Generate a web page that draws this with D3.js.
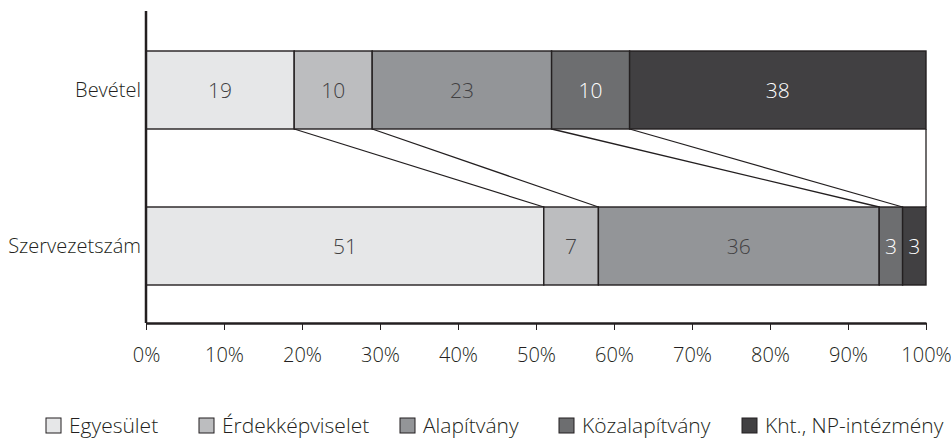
<!DOCTYPE html>
<html>
<head>
<meta charset="utf-8">
<script src="https://cdn.jsdelivr.net/npm/d3@7"></script>
<style>
  html, body { margin: 0; padding: 0; background: #fff; }
  svg text { font-family: "Open Sans", "Noto Sans", sans-serif; font-weight: 300; fill: #231f20; }
</style>
</head>
<body>
<svg id="chart" width="951" height="439"></svg>
<script>
// Rows of the 100% stacked bar
const categories = ["Bevétel", "Szervezetszám"];
// Segment names, in stacking order
const seriesNames = ["Egyesület", "Érdekképviselet", "Alapítvány", "Közalapítvány", "Kht., NP-intézmény"];
// Percent shares per row, same order as seriesNames
const bevetel = [19, 10, 23, 10, 38];
const szervezetszam = [51, 7, 36, 3, 3];
const tickValues = [0, 10, 20, 30, 40, 50, 60, 70, 80, 90, 100];
const fills = ["#e6e7e8", "#bcbdbf", "#939598", "#6d6e70", "#414042"];
const labelColors = ["#414042", "#414042", "#414042", "#ffffff", "#ffffff"];

const rows = [bevetel, szervezetszam];

const svg = d3.select("#chart");
const plot = { left: 146, right: 926, top: 11, axisY: 323 };

const x = d3.scaleLinear().domain([0, 100]).range([plot.left, plot.right]);
const y = d3.scaleBand().domain(categories).range([12, 324]).paddingInner(0.5).paddingOuter(0.25);

// cumulative segment boundaries per row
const stacks = rows.map(vals => {
  let acc = 0;
  return vals.map((v, i) => { const s = { i, x0: acc, x1: acc + v, v }; acc += v; return s; });
});

// Connector lines between matching boundaries of the two bars
const topRow = stacks[0], botRow = stacks[1];
const yTopBottom = y(categories[0]) + y.bandwidth();
const yBotTop = y(categories[1]);
const conn = svg.append("g");
topRow.forEach((s, i) => {
  conn.append("line")
    .attr("x1", x(s.x1)).attr("y1", yTopBottom)
    .attr("x2", x(botRow[i].x1)).attr("y2", yBotTop)
    .attr("stroke", "#231f20").attr("stroke-width", 1.3);
});

// Bars
const bars = svg.append("g");
stacks.forEach((row, r) => {
  const cat = categories[r];
  row.forEach(s => {
    bars.append("rect")
      .attr("x", x(s.x0)).attr("y", y(cat))
      .attr("width", x(s.x1) - x(s.x0)).attr("height", y.bandwidth())
      .attr("fill", fills[s.i]).attr("stroke", "#231f20").attr("stroke-width", 1.4);
    bars.append("text")
      .attr("x", (x(s.x0) + x(s.x1)) / 2).attr("y", y(cat) + y.bandwidth() / 2)
      .attr("text-anchor", "middle").attr("dy", "0.36em")
      .attr("font-size", 21)
      .style("fill", labelColors[s.i])
      .text(s.v);
  });
});

// Category labels
svg.append("g").selectAll("text").data(categories).join("text")
  .attr("x", plot.left - 5).attr("y", d => y(d) + y.bandwidth() / 2)
  .attr("text-anchor", "end").attr("dy", "0.36em").attr("font-size", 20)
  .text(d => d);

// Vertical axis line
svg.append("line")
  .attr("x1", plot.left).attr("x2", plot.left)
  .attr("y1", plot.top).attr("y2", plot.axisY)
  .attr("stroke", "#231f20").attr("stroke-width", 2.5);

// Horizontal percent axis
const xAxis = d3.axisBottom(x).tickValues(tickValues).tickFormat(d => d + "%")
  .tickSize(7).tickSizeOuter(0).tickPadding(18);
const gx = svg.append("g").attr("transform", `translate(0,${plot.axisY})`).call(xAxis);
gx.select(".domain").attr("stroke", "#231f20").attr("stroke-width", 2.5);
gx.selectAll(".tick line").attr("stroke", "#231f20").attr("stroke-width", 1);
gx.selectAll(".tick text").attr("font-size", 20).attr("font-family", null).style("fill", "#231f20");

// Legend
const legendX = [46, 199, 400, 559, 742];
const lg = svg.append("g");
seriesNames.forEach((name, i) => {
  const g = lg.append("g").attr("transform", `translate(${legendX[i]},425)`);
  g.append("rect").attr("x", 0).attr("y", -7).attr("width", 15).attr("height", 15)
    .attr("fill", fills[i]).attr("stroke", "#231f20").attr("stroke-width", 1);
  g.append("text").attr("x", 23).attr("y", 0).attr("dy", "0.36em").attr("font-size", 21).text(name);
});
</script>
</body>
</html>
